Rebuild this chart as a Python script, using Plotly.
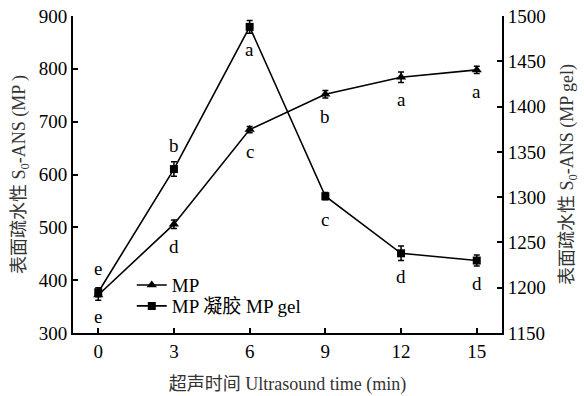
import plotly.graph_objects as go

time_min = [0, 3, 6, 9, 12, 15]
mp_values = [372, 506, 685, 752, 784, 798]
mp_err = [10, 8, 6, 7, 10, 7]
gel_values = [1195, 1331, 1488, 1301, 1238, 1230]
gel_err = [5, 8, 7, 4, 8, 6]
mp_letters = ["e", "d", "c", "b", "a", "a"]
gel_letters = ["e", "b", "a", "c", "d", "d"]
gel_letter_above = [True, True, False, False, False, False]

FONT = "Times New Roman, Liberation Serif, Noto Sans CJK SC, serif"

fig = go.Figure()
fig.add_trace(go.Scatter(
    x=time_min, y=mp_values, name="MP", mode="lines+markers",
    line=dict(color="black", width=1.6),
    marker=dict(symbol="triangle-up", size=9, color="black"),
    error_y=dict(type="data", array=mp_err, color="black", thickness=1.5, width=3),
    yaxis="y", legend="legend"))
fig.add_trace(go.Scatter(
    x=time_min, y=gel_values, name="MP 凝胶 MP gel", mode="lines+markers",
    line=dict(color="black", width=1.6),
    marker=dict(symbol="square", size=8, color="black"),
    error_y=dict(type="data", array=gel_err, color="black", thickness=1.5, width=3),
    yaxis="y2", legend="legend2"))

annotations = []
for x, y, t in zip(time_min, mp_values, mp_letters):
    annotations.append(dict(x=x, y=y, xref="x", yref="y", text=t, showarrow=False,
                            yshift=-22, font=dict(family=FONT, size=19, color="black")))
for x, y, t, above in zip(time_min, gel_values, gel_letters, gel_letter_above):
    annotations.append(dict(x=x, y=y, xref="x", yref="y2", text=t, showarrow=False,
                            yshift=24 if above else -23,
                            font=dict(family=FONT, size=19, color="black")))

axis_common = dict(showline=True, linecolor="black", linewidth=2, ticks="inside",
                   ticklen=5, tickwidth=1.5, tickcolor="black", showgrid=False,
                   zeroline=False, automargin=False, ticklabeloverflow="allow",
                   tickfont=dict(family=FONT, size=19, color="black"))

legend_common = dict(xanchor="left", yanchor="middle", bgcolor="rgba(0,0,0,0)",
                     font=dict(family=FONT, size=19, color="black"), itemwidth=30)

fig.update_layout(
    width=584, height=396,
    margin=dict(l=73, r=82, t=16, b=63),
    paper_bgcolor="white", plot_bgcolor="white",
    font=dict(family=FONT, size=19, color="black"),
    showlegend=True,
    legend=dict(x=0.137, y=0.151, **legend_common),
    legend2=dict(x=0.137, y=0.085, **legend_common),
    xaxis=dict(range=[-1, 16], tickvals=time_min, **axis_common,
               title=dict(text="超声时间 Ultrasound time (min)", standoff=17,
                          font=dict(family=FONT, size=18, color="#333333"))),
    yaxis=dict(range=[300, 900], dtick=100, **axis_common,
               title=dict(text="表面疏水性 S<sub>0</sub>-ANS (MP )", standoff=8,
                          font=dict(family=FONT, size=18, color="#333333"))),
    yaxis2=dict(range=[1150, 1500], dtick=50, overlaying="y", side="right", **axis_common,
                title=dict(text="表面疏水性 S<sub>0</sub>-ANS (MP gel)", standoff=16,
                           font=dict(family=FONT, size=18, color="#333333"))),
    annotations=annotations,
)

# remove the default 8px page margin so the figure fills the window exactly
fig.write_html("out.html", config={"displayModeBar": False},
               post_script="document.body.style.margin='0';")
